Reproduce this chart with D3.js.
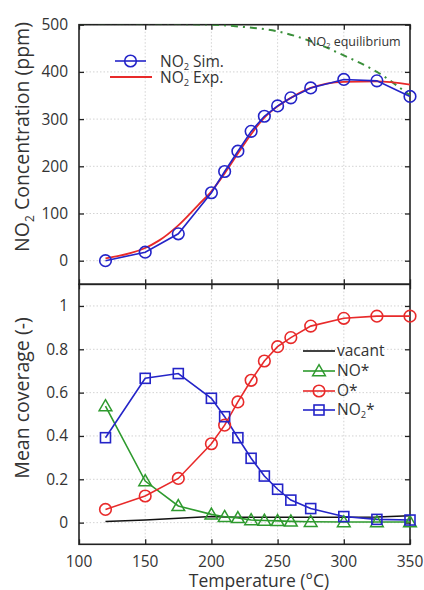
<!DOCTYPE html>
<html><head><meta charset="utf-8">
<script src="https://cdn.jsdelivr.net/npm/d3@7"></script>
<style>
body{margin:0;background:#fff;}
svg{display:block;font-family:"Open Sans","Noto Sans",sans-serif;}
</style></head>
<body><svg id="c" width="424" height="590"></svg>
<script>
// ---- data ----
const simT = [120,150,175,200,210,220,230,240,250,260,275,300,325,350];
const no2Sim = [0,18,57,144,189,232,274,306,328,345,366,384,381,348];
const expT = [120,130,140,150,160,175,190,200,210,220,230,240,250,260,275,300,325,350];
const no2Exp = [5,10,17,27,42,75,118,147,185,227,268,303,327,345,366,379,380,373];
const eqT = [100,150,200,225,250,275,300,325,350];
const no2Eq = [503,502,500,495,486,465,435,400,350];

const covT = [120,150,175,200,210,220,230,240,250,260,275,300,325,350];
const vacant = [0.005,0.012,0.02,0.028,0.026,0.025,0.025,0.025,0.025,0.025,0.025,0.025,0.026,0.032];
const noStar = [0.538,0.192,0.077,0.038,0.027,0.022,0.012,0.01,0.008,0.006,0.004,0.003,0.003,0.003];
const oStar = [0.061,0.123,0.204,0.364,0.45,0.557,0.657,0.746,0.812,0.854,0.907,0.943,0.953,0.953];
const no2Star = [0.392,0.666,0.688,0.574,0.489,0.392,0.297,0.215,0.154,0.104,0.065,0.028,0.015,0.012];

const xTicks = [100,150,200,250,300,350];
const topTicks = [0,100,200,300,400,500];
const botTicks = [0,0.2,0.4,0.6,0.8,1];

const BLUE = "#2424c8", RED = "#e82a2a", GREEN = "#2e9a2e", EQG = "#3a8f3a";

const svg = d3.select("#c");
const x = d3.scaleLinear().domain([100,350]).range([79,410]);
const yT = d3.scaleLinear().domain([-50,500]).range([284.3,24.7]);
const yB = d3.scaleLinear().domain([-0.1,1.1]).range([544.3,284.3]);

function panel(y, yticks, fmt, top, bottom){
  const g = svg.append("g");
  g.selectAll(".gx").data(xTicks.slice(1,-1)).join("line")
    .attr("x1",d=>x(d)).attr("x2",d=>x(d)).attr("y1",top).attr("y2",bottom)
    .attr("stroke","#c8c8c8").attr("stroke-width",0.8).attr("stroke-dasharray","1.5,2");
  g.selectAll(".gy").data(yticks).join("line")
    .attr("x1",x(100)).attr("x2",x(350)).attr("y1",d=>y(d)).attr("y2",d=>y(d))
    .attr("stroke","#c8c8c8").attr("stroke-width",0.8).attr("stroke-dasharray","1.5,2");
  const L = d3.axisLeft(y).tickValues(yticks).tickSize(-5).tickPadding(11).tickFormat(fmt);
  const R = d3.axisRight(y).tickValues(yticks).tickSize(-5).tickFormat("");
  const T = d3.axisTop(x).tickValues(xTicks).tickSize(-5).tickFormat("");
  const B = d3.axisBottom(x).tickValues(xTicks).tickSize(-5).tickFormat("");
  const gl = g.append("g").attr("transform",`translate(${x(100)},0)`).call(L);
  g.append("g").attr("transform",`translate(${x(350)},0)`).call(R);
  g.append("g").attr("transform",`translate(0,${top})`).call(T);
  g.append("g").attr("transform",`translate(0,${bottom})`).call(B);
  g.selectAll(".domain").remove();
  g.selectAll(".tick line").attr("stroke","#222").attr("stroke-width",1.3);
  gl.selectAll("text").attr("font-size",15.5).attr("fill","#333").attr("font-family","'Open Sans',sans-serif");
  g.append("rect").attr("x",x(100)).attr("y",top).attr("width",x(350)-x(100)).attr("height",bottom-top)
    .attr("fill","none").attr("stroke","#222").attr("stroke-width",1.6);
  return g;
}

panel(yT, topTicks, d3.format("d"), 24.7, 284.3);
panel(yB, botTicks, d=> d===0?"0":(d===1?"1":d3.format(".1f")(d)), 284.3, 544.3);

svg.append("g").selectAll("text").data(xTicks).join("text")
  .attr("x",d=>x(d)).attr("y",566.5).attr("text-anchor","middle")
  .attr("font-size",15.5).attr("fill","#333").text(d=>d);

svg.append("clipPath").attr("id","clipT").append("rect")
  .attr("x",x(100)).attr("y",24.7).attr("width",x(350)-x(100)).attr("height",259.6);

const topG = svg.append("g");
const eqLine = d3.line().x((d,i)=>x(eqT[i])).y(d=>yT(d)).curve(d3.curveMonotoneX);
topG.append("path").attr("d",eqLine(no2Eq)).attr("clip-path","url(#clipT)")
  .attr("fill","none").attr("stroke",EQG).attr("stroke-width",2).attr("stroke-dasharray","7,5,2,5");
const expLine = d3.line().x((d,i)=>x(expT[i])).y(d=>yT(d)).curve(d3.curveMonotoneX);
topG.append("path").attr("d",expLine(no2Exp)).attr("fill","none").attr("stroke",RED).attr("stroke-width",1.8);
const simLine = d3.line().x((d,i)=>x(simT[i])).y(d=>yT(d));
topG.append("path").attr("d",simLine(no2Sim)).attr("fill","none").attr("stroke",BLUE).attr("stroke-width",1.6);
topG.selectAll("circle").data(no2Sim).join("circle")
  .attr("cx",(d,i)=>x(simT[i])).attr("cy",d=>yT(d)).attr("r",5.8)
  .attr("fill","none").attr("stroke",BLUE).attr("stroke-width",1.6);

function no2Label(g, xx, yy, rest, fs){
  const t = g.append("text").attr("x",xx).attr("y",yy).attr("font-size",fs).attr("fill","#333");
  t.append("tspan").text("NO");
  t.append("tspan").attr("font-size",fs*0.6).attr("dy",fs*0.22).text("2");
  t.append("tspan").attr("dy",-fs*0.22).text(rest);
  return t;
}
no2Label(svg,307,45.5,"\u00a0equilibrium",12.5);

const tl = svg.append("g");
tl.append("line").attr("x1",115).attr("x2",146).attr("y1",61).attr("y2",61).attr("stroke",BLUE).attr("stroke-width",1.6);
tl.append("circle").attr("cx",130.5).attr("cy",61).attr("r",5.8).attr("fill","none").attr("stroke",BLUE).attr("stroke-width",1.6);
tl.append("line").attr("x1",110).attr("x2",152).attr("y1",77).attr("y2",77).attr("stroke",RED).attr("stroke-width",1.8);
no2Label(tl,160,66.5,"\u00a0Sim.",15.5);
no2Label(tl,160,82.5,"\u00a0Exp.",15.5);

const bg = svg.append("g");
const cl = d3.line().x((d,i)=>x(covT[i])).y(d=>yB(d));
bg.append("path").attr("d",cl(vacant)).attr("fill","none").attr("stroke","#111").attr("stroke-width",1.6);
bg.append("path").attr("d",cl(noStar)).attr("fill","none").attr("stroke",GREEN).attr("stroke-width",1.6);
bg.append("path").attr("d",cl(oStar)).attr("fill","none").attr("stroke",RED).attr("stroke-width",1.6);
bg.append("path").attr("d",cl(no2Star)).attr("fill","none").attr("stroke",BLUE).attr("stroke-width",1.6);
const tri = d3.symbol().type(d3.symbolTriangle).size(70);
bg.selectAll(".tri").data(noStar).join("path")
  .attr("transform",(d,i)=>`translate(${x(covT[i])},${yB(d)+1})`).attr("d",tri())
  .attr("fill","none").attr("stroke",GREEN).attr("stroke-width",1.5);
bg.selectAll(".ci").data(oStar).join("circle")
  .attr("cx",(d,i)=>x(covT[i])).attr("cy",d=>yB(d)).attr("r",5.8)
  .attr("fill","none").attr("stroke",RED).attr("stroke-width",1.6);
bg.selectAll(".sq").data(no2Star).join("rect")
  .attr("x",(d,i)=>x(covT[i])-5).attr("y",d=>yB(d)-5).attr("width",10).attr("height",10)
  .attr("fill","none").attr("stroke",BLUE).attr("stroke-width",1.6);

const bl = svg.append("g");
const rows = [351,371,391,410];
const cols = ["#111",GREEN,RED,BLUE];
rows.forEach((ry,i)=>{
  bl.append("line").attr("x1",303).attr("x2",335).attr("y1",ry).attr("y2",ry).attr("stroke",cols[i]).attr("stroke-width",1.6);
});
bl.append("path").attr("transform",`translate(319,372)`).attr("d",tri()).attr("fill","none").attr("stroke",GREEN).attr("stroke-width",1.5);
bl.append("circle").attr("cx",319).attr("cy",391).attr("r",5.8).attr("fill","none").attr("stroke",RED).attr("stroke-width",1.6);
bl.append("rect").attr("x",314).attr("y",405).attr("width",10).attr("height",10).attr("fill","none").attr("stroke",BLUE).attr("stroke-width",1.6);
bl.append("text").attr("x",337).attr("y",356).attr("font-size",15.5).attr("fill","#333").text("vacant");
bl.append("text").attr("x",337).attr("y",376).attr("font-size",15.5).attr("fill","#333").text("NO*");
bl.append("text").attr("x",337).attr("y",396).attr("font-size",15.5).attr("fill","#333").text("O*");
no2Label(bl,337,415,"*",15.5);

const yt1 = svg.append("text").attr("transform","translate(29,137) rotate(-90)").attr("text-anchor","middle")
  .attr("font-size",19.5).attr("fill","#333");
yt1.append("tspan").text("NO");
yt1.append("tspan").attr("font-size",12).attr("dy",5).text("2");
yt1.append("tspan").attr("dy",-5).text(" Concentration (ppm)");
svg.append("text").attr("transform","translate(29,398) rotate(-90)").attr("text-anchor","middle")
  .attr("font-size",19.5).attr("fill","#333").text("Mean coverage (-)");
svg.append("text").attr("x",259).attr("y",586.5).attr("text-anchor","middle")
  .attr("font-size",17.5).attr("fill","#333").text("Temperature (°C)");
</script></body></html>
